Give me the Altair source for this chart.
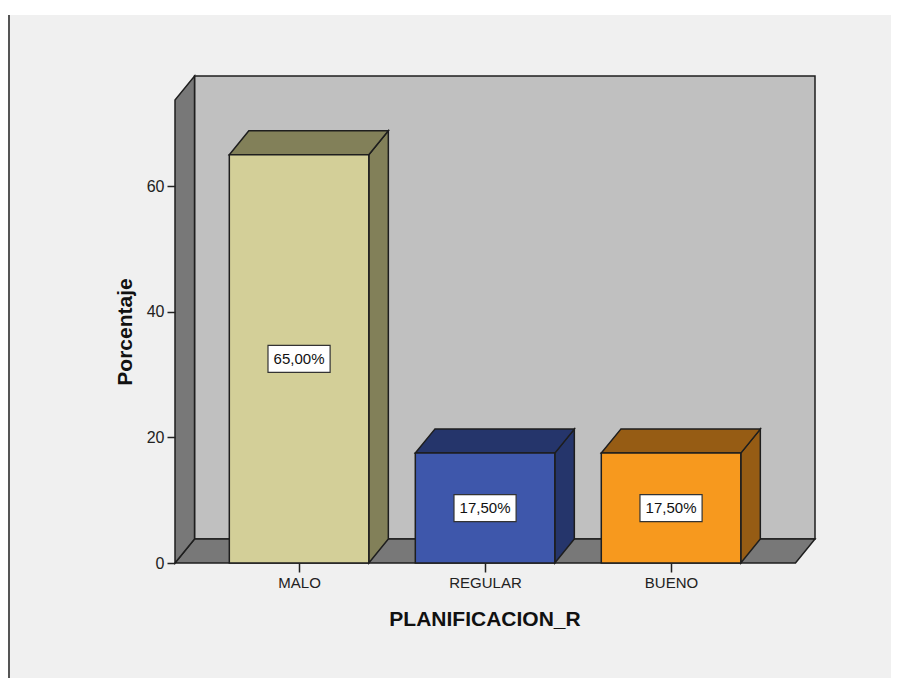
import json
import altair as alt
import pandas as pd

# ---------------- data ----------------
categories = ["MALO", "REGULAR", "BUENO"]
percentages = [65.0, 17.5, 17.5]
front_colors = ["#d3cf98", "#3e57ab", "#f7991e"]
shade_colors = ["#828059", "#25356b", "#965c14"]
y_ticks = [0, 20, 40, 60]

# ---------------- geometry (scale units) ----------------
X_MIN, X_MAX = -0.667, 2.774
DX = 0.105          # 3-D depth along x
Y_MAX = 77.55
DY = 3.82           # 3-D depth along y
Y_FRONT_TOP = Y_MAX - DY
HALF = 0.375        # half bar width
BOX_HW, BOX_HH = 0.167, 2.15

FONT = "Liberation Sans"
EDGE = "#1e1e1e"

idx = list(range(len(categories)))
label_expr = json.dumps(categories) + "[datum.value]"

xscale = alt.Scale(domain=[X_MIN, X_MAX], nice=False, zero=False)
yscale = alt.Scale(domain=[0, Y_MAX], nice=False, zero=False)
xaxis = alt.Axis(values=idx, labelExpr=label_expr, title="PLANIFICACION_R", zindex=2,
                 domain=False, grid=False, tickSize=9, tickColor="#222", tickWidth=1.5,
                 labelFont=FONT, labelFontSize=15, labelColor="#222", labelPadding=3,
                 titleFont=FONT, titleFontSize=21, titleFontWeight="bold", titleColor="#111",
                 titleBaseline="alphabetic", titleX=309.5, titleY=62, titleAnchor="start",
                 titleAlign="center")
yaxis = alt.Axis(values=y_ticks, title="Porcentaje", domain=False, grid=False, zindex=2,
                 tickSize=8, tickColor="#222", tickWidth=1.5,
                 labelFont=FONT, labelFontSize=16, labelColor="#222", labelPadding=3,
                 titleFont=FONT, titleFontSize=21, titleFontWeight="bold", titleColor="#111",
                 titleBaseline="alphabetic", titleAngle=270, titleX=-43.5, titleY=255.5,
                 titleAlign="center", titleAnchor="start")


def X(f):
    return alt.X(f, type="quantitative", scale=xscale, axis=xaxis)


def Y(f):
    return alt.Y(f, type="quantitative", scale=yscale, axis=yaxis)


# ---------------- frames ----------------
back_df = pd.DataFrame({"x": [X_MIN + DX], "x2": [X_MAX], "y": [DY], "y2": [Y_MAX]})
floor_df = pd.DataFrame({"y": [0, DY], "x": [X_MIN, X_MIN + DX], "x2": [X_MAX - DX, X_MAX]})
wall_df = pd.DataFrame({"x": [X_MIN, X_MIN + DX], "y": [0, DY], "y2": [Y_FRONT_TOP, Y_MAX]})

bars = pd.DataFrame({"cat": categories, "i": idx, "v": percentages,
                     "front": front_colors, "shade": shade_colors})
bars["x0"] = bars["i"] - HALF
bars["x1"] = bars["i"] + HALF
bars["mid"] = bars["v"] / 2
bars["bx0"] = bars["i"] - BOX_HW
bars["bx1"] = bars["i"] + BOX_HW
bars["by0"] = bars["mid"] - BOX_HH
bars["by1"] = bars["mid"] + BOX_HH
bars["label"] = [f"{v:.2f}".replace(".", ",") + "%" for v in percentages]

side_rows, top_rows = [], []
for c, s, v, x0, x1 in zip(categories, shade_colors, percentages, bars["x0"], bars["x1"]):
    side_rows.append({"cat": c, "shade": s, "x": x1, "y": 0.0, "y2": v})
    side_rows.append({"cat": c, "shade": s, "x": x1 + DX, "y": DY, "y2": v + DY})
    top_rows.append({"cat": c, "shade": s, "y": v, "x": x0, "x2": x1})
    top_rows.append({"cat": c, "shade": s, "y": v + DY, "x": x0 + DX, "x2": x1 + DX})
side_df = pd.DataFrame(side_rows)
top_df = pd.DataFrame(top_rows)

# ---------------- layers ----------------
bg = alt.Chart(pd.DataFrame({"a": [0]})).mark_rect(fill="#f0f0f0").encode(
    x=alt.value(-165), x2=alt.value(740), y=alt.value(-61), y2=alt.value(620))
frame_line = alt.Chart(pd.DataFrame({"a": [0]})).mark_rule(color="#555", strokeWidth=2).encode(
    x=alt.value(-166), y=alt.value(-61), y2=alt.value(620))

back = alt.Chart(back_df).mark_rect(fill="#c0c0c0", stroke=EDGE, strokeWidth=1.5).encode(
    x=X("x"), x2="x2", y=Y("y"), y2="y2")
floor = alt.Chart(floor_df).mark_area(orient="horizontal", fill="#787878", stroke=EDGE,
                                      strokeWidth=1.5).encode(y=Y("y"), x=X("x"), x2="x2")
wall = alt.Chart(wall_df).mark_area(orient="vertical", fill="#787878", stroke=EDGE,
                                    strokeWidth=1.5).encode(x=X("x"), y=Y("y"), y2="y2")

sides = alt.Chart(side_df).mark_area(orient="vertical", stroke=EDGE, strokeWidth=1.5).encode(
    x=X("x"), y=Y("y"), y2="y2", fill=alt.Fill("shade:N", scale=None), detail="cat:N")
tops = alt.Chart(top_df).mark_area(orient="horizontal", stroke=EDGE, strokeWidth=1.5).encode(
    y=Y("y"), x=X("x"), x2="x2", fill=alt.Fill("shade:N", scale=None), detail="cat:N")
fronts = alt.Chart(bars).mark_rect(stroke=EDGE, strokeWidth=1.5).encode(
    x=X("x0"), x2="x1", y=Y("v"), y2=alt.Y2(datum=0), fill=alt.Fill("front:N", scale=None))
boxes = alt.Chart(bars).mark_rect(fill="white", stroke="#333", strokeWidth=1.2).encode(
    x=X("bx0"), x2="bx1", y=Y("by0"), y2="by1")
texts = alt.Chart(bars).mark_text(font=FONT, fontSize=15, color="#111", align="center",
                                  baseline="middle").encode(x=X("i"), y=Y("mid"), text="label:N")

chart = alt.layer(bg, frame_line, back, floor, wall, sides, tops, fronts, boxes, texts).properties(
    width=640, height=487,
    autosize=alt.AutoSizeParams(type="none"),
    padding={"left": 167, "top": 68, "right": 76, "bottom": 115},
    background="white",
).configure_view(strokeWidth=0)

chart.save("out.html", embed_options={"renderer": "svg", "actions": False})
